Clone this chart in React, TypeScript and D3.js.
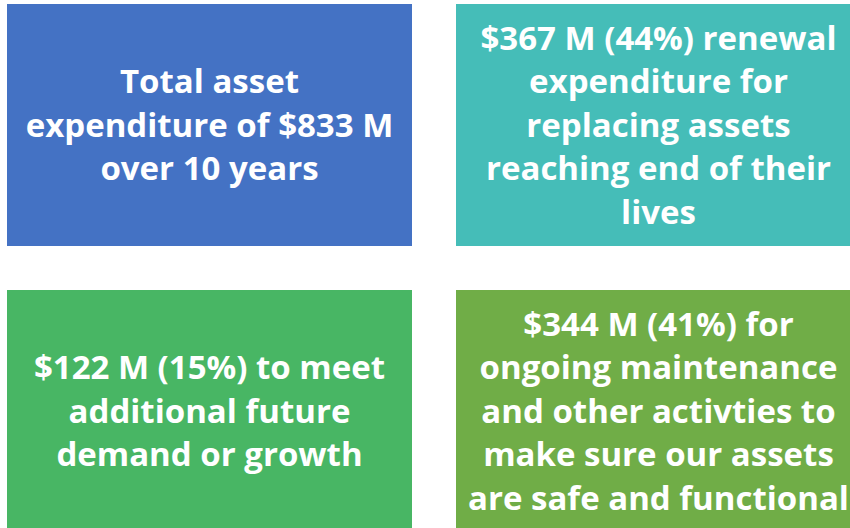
import React from "react";
import * as d3 from "d3";

const boxIds = ["total", "renewal", "growth", "maintenance"];
const boxColors = ["#4472C4", "#45BDB8", "#48B664", "#70AD47"];
const boxLines: string[][] = [
  ["Total asset", "expenditure of $833 M", "over 10 years"],
  ["$367 M (44%) renewal", "expenditure for", "replacing assets", "reaching end of their", "lives"],
  ["$122 M (15%) to meet", "additional future", "demand or growth"],
  ["$344 M (41%) for", "ongoing maintenance", "and other activties to", "make sure our assets", "are safe and functional"],
];

const W = 850;
const H = 528;

export default function App() {
  const col = d3.scaleBand<number>().domain([0, 1]).range([7, 861]).paddingInner(44 / 449).paddingOuter(0);
  const row = d3.scaleBand<number>().domain([0, 1]).range([4, 532]).paddingInner(44 / 286).paddingOuter(0);
  const lineH = 43.5;
  return (
    <svg width={W} height={H} style={{ position: "absolute", left: 0, top: 0, background: "#fff" }}>
      {boxIds.map((id, i) => {
        const c = i % 2;
        const r = Math.floor(i / 2);
        const x = col(c)!;
        const y = row(r)!;
        const bw = col.bandwidth();
        const bh = row.bandwidth();
        const cx = x + bw / 2;
        const cy = y + bh / 2;
        const lines = boxLines[i];
        const n = lines.length;
        return (
          <g key={id}>
            <rect x={x} y={y} width={bw} height={bh} fill={boxColors[i]} />
            <text
              textAnchor="middle"
              fill="#fff"
              fontFamily="'Open Sans', sans-serif"
              fontWeight={700}
              fontSize={33}
            >
              {lines.map((l, j) => (
                <tspan key={j} x={cx} y={cy + (j - (n - 1) / 2) * lineH + 11.5}>
                  {l}
                </tspan>
              ))}
            </text>
          </g>
        );
      })}
    </svg>
  );
}
